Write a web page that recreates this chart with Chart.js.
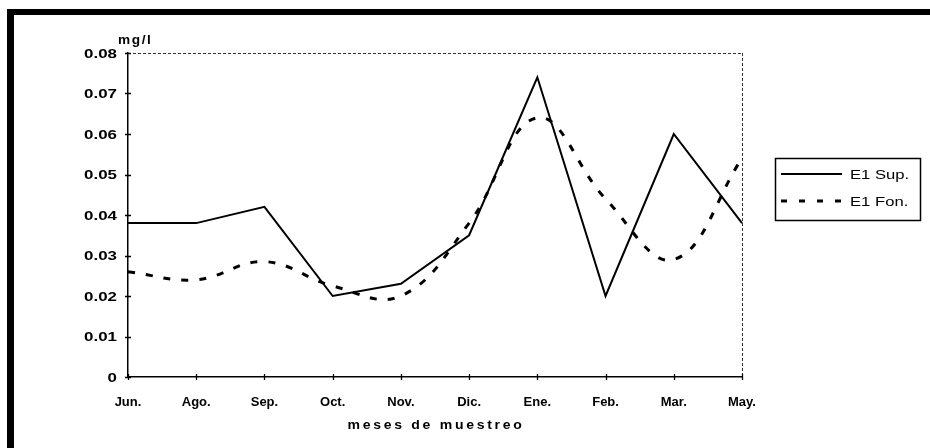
<!DOCTYPE html>
<html>
<head>
<meta charset="utf-8">
<script src="https://cdn.jsdelivr.net/npm/chart.js@4"></script>
<style>
html,body{margin:0;padding:0;background:#fff;}
#wrap{position:relative;width:930px;height:448px;overflow:hidden;}
#c{position:absolute;left:0;top:0;}
.ft{position:absolute;left:7px;top:9px;width:923px;height:6px;background:#000;}
.fl{position:absolute;left:7px;top:9px;width:7px;height:439px;background:#000;}
</style>
</head>
<body>
<div id="wrap"><canvas id="c" width="930" height="448"></canvas><div class="ft"></div><div class="fl"></div></div>
<script>
const categories = ['Jun.','Ago.','Sep.','Oct.','Nov.','Dic.','Ene.','Feb.','Mar.','May.'];
const supValues = [0.038,0.038,0.042,0.020,0.023,0.035,0.074,0.020,0.060,0.038];
const fonValues = [0.026,0.024,0.0285,0.0225,0.020,0.038,0.064,0.044,0.029,0.054];
const yTickValues = [0,0.01,0.02,0.03,0.04,0.05,0.06,0.07,0.08];
const yTickLabels = ['0','0.01','0.02','0.03','0.04','0.05','0.06','0.07','0.08'];
const seriesNames = ['E1 Sup.','E1 Fon.'];
const unitLabel = 'mg/l';
const xTitle = 'meses de muestreo';

const FONT = '"Liberation Sans", Arial, sans-serif';

// draw text horizontally widened (the original is a stretched scan)
function wideText(ctx, text, x, y, align, sx) {
  ctx.save();
  ctx.translate(x, y);
  ctx.scale(sx, 1);
  ctx.textAlign = align;
  ctx.fillText(text, 0, 0);
  ctx.restore();
}

const decor = {
  id: 'decor',
  afterDraw(chart) {
    const {ctx, chartArea: a, scales: {x, y}} = chart;
    ctx.save();
    // dotted top and right plot borders
    ctx.strokeStyle = '#333';
    ctx.lineWidth = 1;
    ctx.setLineDash([3, 2]);
    ctx.beginPath();
    ctx.moveTo(a.left, Math.round(a.top) + 0.5);
    ctx.lineTo(a.right, Math.round(a.top) + 0.5);
    ctx.moveTo(Math.round(a.right) + 0.5, a.top);
    ctx.lineTo(Math.round(a.right) + 0.5, a.bottom);
    ctx.stroke();
    ctx.setLineDash([]);
    // crossing tick marks
    ctx.strokeStyle = '#000';
    ctx.lineWidth = 1.3;
    ctx.beginPath();
    y.ticks.forEach((t, i) => {
      const py = Math.round(y.getPixelForTick(i)) + 0.5;
      ctx.moveTo(a.left - 3, py); ctx.lineTo(a.left + 3, py);
    });
    x.ticks.forEach((t, i) => {
      const px = Math.round(x.getPixelForTick(i)) + 0.5;
      ctx.moveTo(px, a.bottom - 3); ctx.lineTo(px, a.bottom + 3);
    });
    ctx.stroke();
    ctx.fillStyle = '#000';
    ctx.textBaseline = 'middle';
    // y tick labels
    ctx.font = 'bold 13px ' + FONT;
    y.ticks.forEach((t, i) => {
      wideText(ctx, yTickLabels[i], a.left - 11, y.getPixelForTick(i) + 1, 'right', 1.3);
    });
    // unit label
    ctx.font = 'bold 13px ' + FONT;
    ctx.letterSpacing = '1.5px';
    wideText(ctx, unitLabel, a.left - 10, a.top - 13, 'left', 1.05);
    // axis title
    ctx.font = 'bold 13px ' + FONT;
    ctx.letterSpacing = '2.5px';
    wideText(ctx, xTitle, (a.left + a.right) / 2 + 1, 425, 'center', 1.08);
    ctx.letterSpacing = '0px';
    // legend
    const bx = a.right + 33, by = 158, bw = 145, bh = 62;
    ctx.lineWidth = 1.5;
    ctx.strokeStyle = '#000';
    ctx.strokeRect(bx + 0.5, by + 0.5, bw, bh);
    const rows = [by + 16, by + 43];
    chart.data.datasets.forEach((ds, i) => {
      const ry = rows[i];
      ctx.save();
      ctx.strokeStyle = ds.borderColor;
      ctx.lineWidth = ds.borderWidth;
      ctx.setLineDash(ds.borderDash ? [6, 12] : []);
      ctx.beginPath();
      ctx.moveTo(bx + 6, ry);
      ctx.lineTo(bx + 67, ry);
      ctx.stroke();
      ctx.restore();
      ctx.font = '13px ' + FONT;
      ctx.fillStyle = '#000';
      wideText(ctx, ds.label, bx + 75, ry + 1, 'left', 1.28);
    });
    ctx.restore();
  }
};

new Chart(document.getElementById('c'), {
  type: 'line',
  data: {
    labels: categories,
    datasets: [
      {label: seriesNames[0], data: supValues, borderColor: '#000', borderWidth: 2, tension: 0, pointRadius: 0, fill: false},
      {label: seriesNames[1], data: fonValues, borderColor: '#000', borderWidth: 3, borderDash: [7, 11], tension: 0.4, pointRadius: 0, fill: false}
    ]
  },
  options: {
    responsive: false,
    animation: false,
    devicePixelRatio: 1,
    layout: {padding: {left: 20, top: 53, right: 188, bottom: 16}},
    plugins: {legend: {display: false}, tooltip: {enabled: false}},
    scales: {
      x: {
        offset: false,
        grid: {display: true, drawOnChartArea: false, drawTicks: false},
        border: {display: true, color: '#000', width: 1.5},
        ticks: {color: '#000', padding: 18, maxRotation: 0, autoSkip: false, font: {family: FONT, size: 13, weight: 'bold'}},
        afterFit: s => { s.height = 55; }
      },
      y: {
        min: 0, max: 0.08,
        grid: {display: true, drawOnChartArea: false, drawTicks: false},
        border: {display: true, color: '#000', width: 1.5},
        afterBuildTicks: s => { s.ticks = yTickValues.map(v => ({value: v})); },
        ticks: {display: false},
        afterFit: s => { s.width = 108; }
      }
    }
  },
  plugins: [decor]
});
</script>
</body>
</html>
